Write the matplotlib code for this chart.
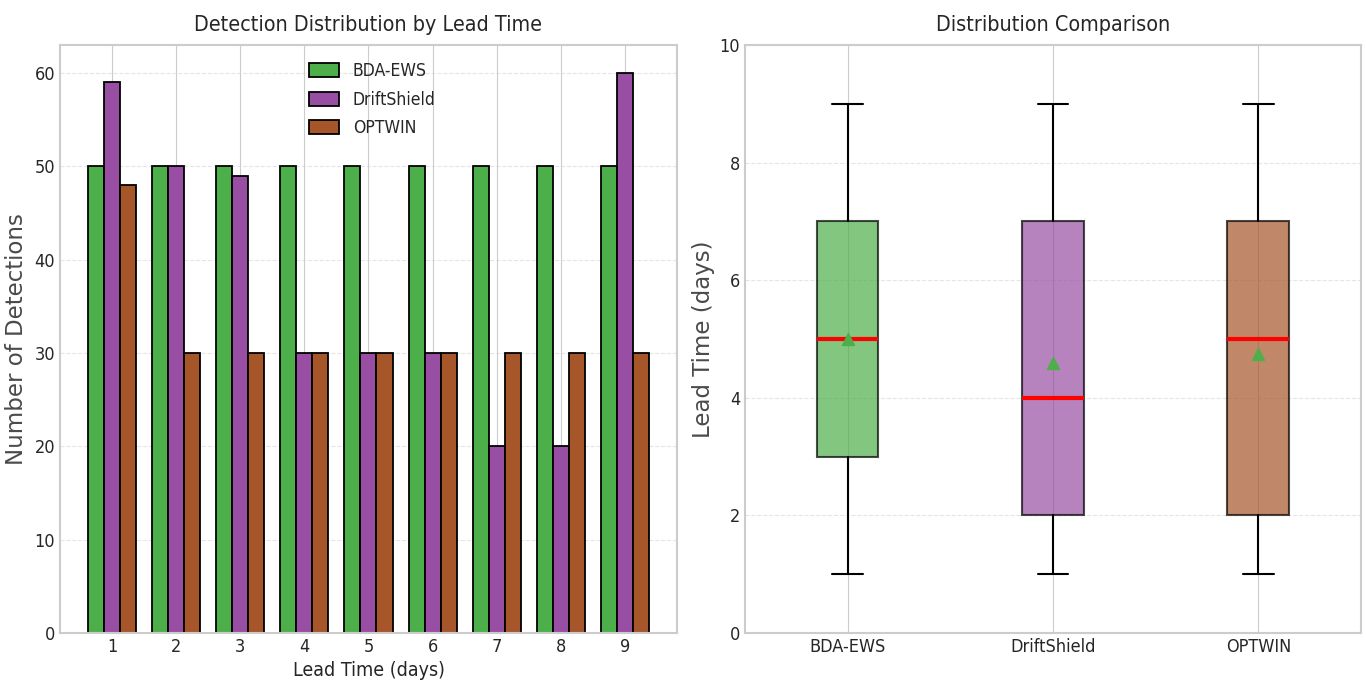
import numpy as np
import matplotlib
matplotlib.use("Agg")
import matplotlib.pyplot as plt
import matplotlib.font_manager as fm

# ---------------- data ----------------
lead_times = [1, 2, 3, 4, 5, 6, 7, 8, 9]
methods = ["BDA-EWS", "DriftShield", "OPTWIN"]
bda_counts = [50, 50, 50, 50, 50, 50, 50, 50, 50]
drift_counts = [59, 50, 49, 30, 30, 30, 20, 20, 60]
optwin_counts = [48, 30, 30, 30, 30, 30, 30, 30, 30]
colors = ["#4daf4a", "#984ea3", "#a65628"]

# ---------------- fonts ----------------
def pick_condensed():
    fl = fm.fontManager.ttflist
    def ok_style(f):
        return f.style == "normal" and f.weight in (400, "normal", "regular")
    prefs = [
        lambda f: f.name == "Liberation Sans Narrow",
        lambda f: "Noto Sans" in f.name and "Condensed" in f.fname and "Extra" not in f.fname and "Semi" not in f.fname and "Mono" not in f.fname,
        lambda f: "DejaVu" in f.name and "Condensed" in f.fname and "Mono" not in f.fname and "Serif" not in f.fname,
        lambda f: ("Condensed" in f.fname or "Narrow" in f.fname) and "Serif" not in f.fname and "Mono" not in f.fname,
    ]
    for p in prefs:
        for f in fl:
            try:
                if p(f) and ok_style(f) and "Bold" not in f.fname and "Italic" not in f.fname and "Oblique" not in f.fname:
                    return fm.FontProperties(fname=f.fname)
            except Exception:
                pass
    return fm.FontProperties(family="DejaVu Sans", stretch="condensed")

cond = pick_condensed()

def fp(size):
    p = cond.copy()
    p.set_size(size)
    return p

plt.style.use("seaborn-v0_8-whitegrid")
plt.rcParams["font.family"] = ["DejaVu Sans"]

fig = plt.figure(figsize=(13.66, 6.95), dpi=100)
ax1 = fig.add_axes([0.0439, 0.0892, 0.4517, 0.8461])
ax2 = fig.add_axes([0.5454, 0.0892, 0.4509, 0.8461])

TXT = "#262626"
YLAB = "#4a4a4a"

# ---------------- left: grouped bars ----------------
x = np.array(lead_times, dtype=float)
w = 0.25
series = [bda_counts, drift_counts, optwin_counts]
for i, (vals, c, m) in enumerate(zip(series, colors, methods)):
    ax1.bar(x + (i - 1) * w, vals, w, color=c, edgecolor="black", linewidth=1.3, label=m)

ax1.set_xticks(lead_times)
ax1.set_title("Detection Distribution by Lead Time", fontproperties=fp(15.4), color=TXT, pad=10)
ax1.set_xlabel("Lead Time (days)", fontproperties=fp(14), color=TXT)
ax1.set_ylabel("Number of Detections", fontsize=16.5, color=YLAB, labelpad=5)
ax1.grid(axis="y", linestyle="--", alpha=0.5)
leg = ax1.legend(loc="upper center", prop=fp(12.6), handlelength=1.7, handleheight=0.85,
                 labelspacing=0.6, borderaxespad=0.6, bbox_to_anchor=(0.506, 1.0))

# ---------------- right: box plot ----------------
box_data = [np.repeat(lead_times, cnt) for cnt in series]
bp = ax2.boxplot(box_data, positions=[1, 2, 3], widths=0.3, patch_artist=True, showmeans=True,
                 medianprops=dict(color="red", linewidth=3),
                 whiskerprops=dict(color="black", linewidth=1.5),
                 capprops=dict(color="black", linewidth=1.5),
                 meanprops=dict(marker="^", markerfacecolor="#4daf4a", markeredgecolor="#4daf4a", markersize=9),
                 boxprops=dict(linewidth=1.5))
for patch, c in zip(bp["boxes"], colors):
    patch.set_facecolor(c)
    patch.set_alpha(0.7)
    patch.set_edgecolor("black")

ax2.set_xticks([1, 2, 3])
ax2.set_xticklabels(methods)
ax2.set_ylim(0, 10)
ax2.set_title("Distribution Comparison", fontproperties=fp(15.4), color=TXT, pad=10)
ax2.set_ylabel("Lead Time (days)", fontsize=16.5, color=YLAB, labelpad=3)
ax2.grid(axis="y", linestyle="--", alpha=0.5)

for ax in (ax1, ax2):
    for lab in ax.get_xticklabels() + ax.get_yticklabels():
        lab.set_fontproperties(fp(13))
        lab.set_color(TXT)
    for s in ax.spines.values():
        s.set_color("#cccccc")
        s.set_linewidth(1.5)

fig.savefig("out.png", dpi=100)
